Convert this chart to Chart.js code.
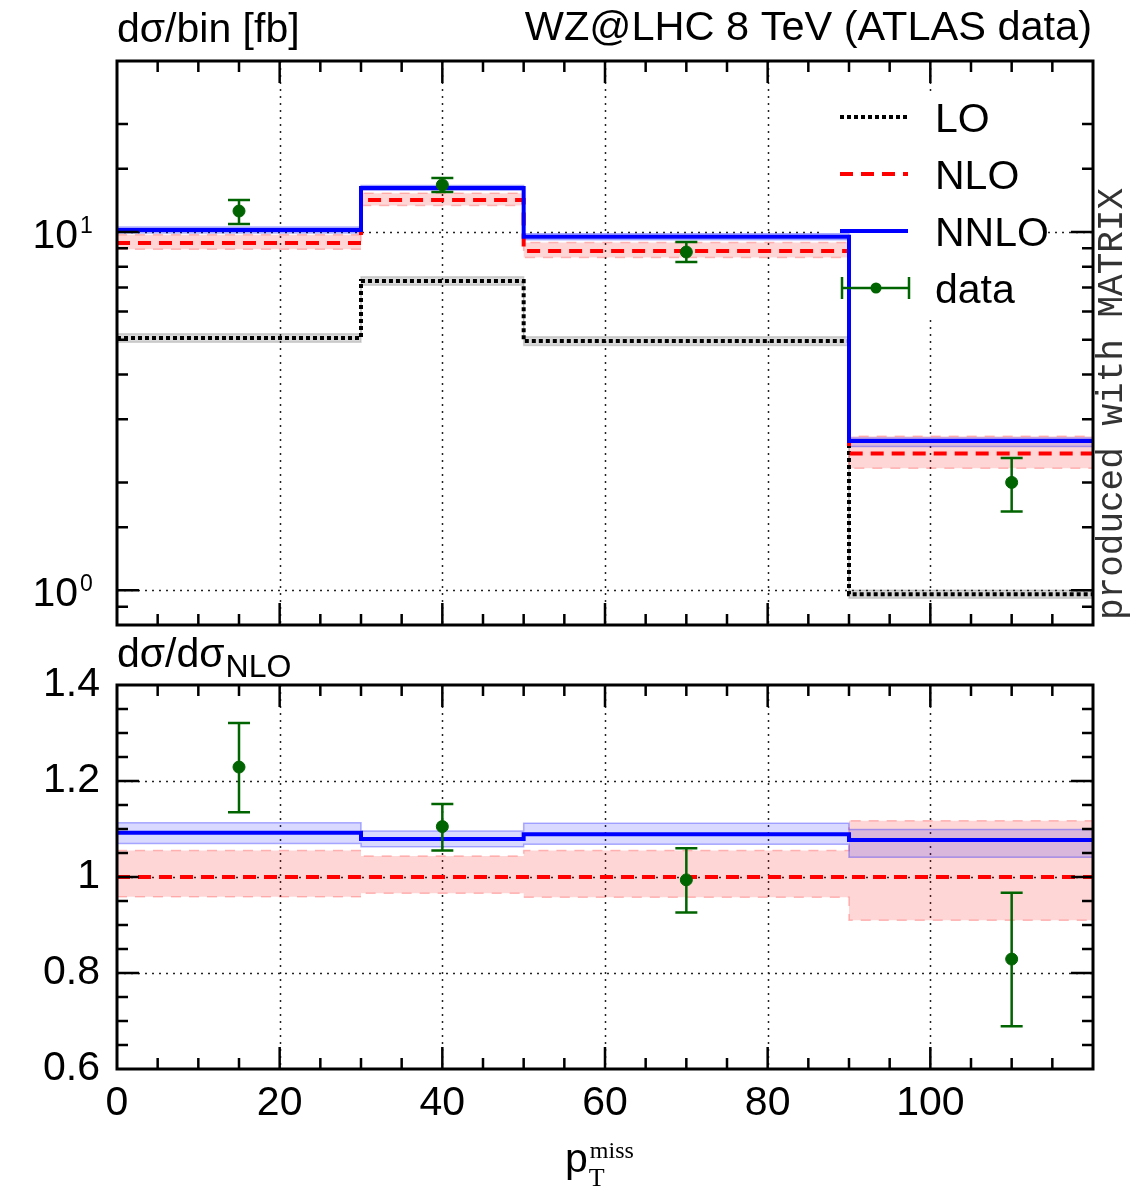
<!DOCTYPE html>
<html>
<head>
<meta charset="utf-8">
<script src="https://cdn.jsdelivr.net/npm/chart.js@4.4.0/dist/chart.umd.min.js"></script>
<style>
  body { margin: 0; background: #fff; }
  #wrap { position: relative; width: 1140px; height: 1200px; }
  canvas { position: absolute; left: 0; }
  #top { top: 0; }
  #bot { top: 630px; }
</style>
</head>
<body>
<div id="wrap">
  <canvas id="top" width="1140" height="640"></canvas>
  <canvas id="bot" width="1140" height="570"></canvas>
</div>
<script>
// bins of p_T^miss and where the data points sit
const binEdges = [0, 30, 50, 90, 120];
const dataX = [15, 40, 70, 110];

// dsigma/bin [fb]
const lo = [5.06, 7.30, 4.96, 0.975];
const loLow = [4.92, 7.10, 4.82, 0.95];
const loHigh = [5.20, 7.50, 5.10, 1.00];
const nlo = [9.32, 12.28, 8.85, 2.41];
const nloLow = [8.95, 11.86, 8.48, 2.19];
const nloHigh = [9.83, 12.82, 9.34, 2.69];
const nnlo = [10.13, 13.27, 9.69, 2.61];
const nnloLow = [9.93, 13.07, 9.51, 2.52];
const nnloHigh = [10.33, 13.48, 9.89, 2.66];
const data = [11.44, 13.53, 8.79, 2.00];
const dataLow = [10.53, 12.93, 8.25, 1.66];
const dataHigh = [12.28, 14.15, 9.38, 2.34];

// ratio to NLO
const nloRatio = [1, 1, 1, 1];
const nloRatioLow = [0.959, 0.966, 0.958, 0.910];
const nloRatioHigh = [1.055, 1.044, 1.055, 1.117];
const nnloRatio = [1.092, 1.079, 1.089, 1.077];
const nnloRatioLow = [1.070, 1.063, 1.068, 1.041];
const nnloRatioHigh = [1.113, 1.096, 1.112, 1.099];
const dataRatio = [1.229, 1.105, 0.994, 0.829];
const dataRatioLow = [1.135, 1.055, 0.926, 0.689];
const dataRatioHigh = [1.321, 1.152, 1.060, 0.967];

const xGrid = [20, 40, 60, 80, 100];
const topGrid = [1, 10];
const ratioGrid = [0.8, 1, 1.2];

const SANS = "'Liberation Sans', Arial, sans-serif";
const SERIF = "'Liberation Serif', 'Times New Roman', serif";
const MONO = "'Liberation Mono', 'Courier New', monospace";
const GREEN = '#006400';
Chart.defaults.font.family = SANS;
Chart.defaults.color = '#000';

// histogram -> step points (last value repeated at the right edge)
const step = vals => binEdges.map((x, i) => ({ x: x, y: vals[Math.min(i, vals.length - 1)] }));
const pts = vals => dataX.map((x, i) => ({ x: x, y: vals[i] }));

function stepLine(label, vals, color, width, dash, order) {
  return { label: label, data: step(vals), stepped: 'before', borderColor: color, borderWidth: width,
           borderDash: dash, pointRadius: 0, fill: false, order: order, borderCapStyle: 'butt' };
}
function band(vals, edge, dash, order, fillColor) {
  const d = stepLine('', vals, edge, 1.5, dash, order);
  if (fillColor) { d.fill = '-1'; d.backgroundColor = fillColor; }
  return d;
}
function points(vals) {
  return { label: 'data', data: pts(vals), showLine: false, pointRadius: 6, pointHoverRadius: 6,
           pointBackgroundColor: GREEN, pointBorderColor: GREEN, order: 0 };
}

// frame, inward ticks, dotted grid, error bars and extra text
function decor(opts) {
  return {
    id: 'decor',
    beforeDatasetsDraw(chart) {
      const { ctx, chartArea: a, scales: { x, y } } = chart;
      ctx.save();
      ctx.strokeStyle = '#222';
      ctx.lineWidth = 1.5;
      ctx.setLineDash([2, 5]);
      ctx.beginPath();
      xGrid.forEach(v => { const p = Math.round(x.getPixelForValue(v)) + 0.5; ctx.moveTo(p, a.top); ctx.lineTo(p, a.bottom); });
      opts.yGrid.forEach(v => { const p = Math.round(y.getPixelForValue(v)) + 0.5; ctx.moveTo(a.left, p); ctx.lineTo(a.right, p); });
      ctx.stroke();
      ctx.restore();
      if (opts.legendBox) {
        ctx.fillStyle = '#fff';
        ctx.fillRect(...opts.legendBox);
      }
    },
    beforeDatasetDraw(chart, args) {
      const ds = chart.data.datasets[args.index];
      if (ds.label !== 'data') return;
      const { ctx, scales: { x, y } } = chart;
      ctx.save();
      ctx.strokeStyle = GREEN;
      ctx.lineWidth = 2.5;
      ctx.beginPath();
      dataX.forEach((v, i) => {
        const px = x.getPixelForValue(v);
        const lo = y.getPixelForValue(opts.errLow[i]);
        const hi = y.getPixelForValue(opts.errHigh[i]);
        ctx.moveTo(px, lo); ctx.lineTo(px, hi);
        ctx.moveTo(px - 11, lo); ctx.lineTo(px + 11, lo);
        ctx.moveTo(px - 11, hi); ctx.lineTo(px + 11, hi);
      });
      ctx.stroke();
      ctx.restore();
    },
    afterDatasetsDraw(chart) {
      const { ctx, chartArea: a, scales: { x, y } } = chart;
      ctx.save();
      ctx.strokeStyle = '#000';
      ctx.lineWidth = 2.5;
      ctx.beginPath();
      x.ticks.forEach(t => {
        const p = x.getPixelForValue(t.value);
        if (p <= a.left + 1 || p >= a.right - 1) return;
        const len = t.value % 20 === 0 ? 22 : 11;
        ctx.moveTo(p, a.bottom); ctx.lineTo(p, a.bottom - len);
        ctx.moveTo(p, a.top); ctx.lineTo(p, a.top + len);
      });
      y.ticks.forEach(t => {
        const p = y.getPixelForValue(t.value);
        if (p <= a.top + 1 || p >= a.bottom - 1) return;
        const len = opts.isMajor(t.value) ? 22 : 11;
        ctx.moveTo(a.left, p); ctx.lineTo(a.left + len, p);
        ctx.moveTo(a.right, p); ctx.lineTo(a.right - len, p);
      });
      ctx.stroke();
      ctx.lineWidth = 3;
      ctx.strokeRect(a.left, a.top, a.right - a.left, a.bottom - a.top);
      ctx.restore();
      if (opts.after) opts.after(chart);
    }
  };
}

function text(ctx, s, x, y, font, align, color) {
  ctx.font = font;
  ctx.textAlign = align || 'left';
  ctx.textBaseline = 'alphabetic';
  ctx.fillStyle = color || '#000';
  ctx.fillText(s, x, y);
  return ctx.measureText(s).width;
}

// ---------- upper panel ----------
const topSets = [
  points(data),
  stepLine('NNLO', nnlo, '#0000ff', 4, [], 1),
  stepLine('NLO', nlo, '#ff0000', 4, [13, 8], 2),
  stepLine('LO', lo, '#000000', 4, [4, 3], 3),
  band(nnloLow, 'rgba(0,0,255,0.3)', [], 4),
  band(nnloHigh, 'rgba(0,0,255,0.3)', [], 4, 'rgba(0,0,255,0.15)'),
  band(nloLow, 'rgba(255,0,0,0.25)', [10, 8], 5),
  band(nloHigh, 'rgba(255,0,0,0.25)', [10, 8], 5, 'rgba(255,0,0,0.16)'),
  band(loLow, 'rgba(0,0,0,0.15)', [], 6),
  band(loHigh, 'rgba(0,0,0,0.15)', [], 6, 'rgba(0,0,0,0.15)')
];

new Chart(document.getElementById('top'), {
  type: 'line',
  data: { datasets: topSets },
  options: {
    responsive: false,
    animation: false,
    layout: { padding: { top: 61, right: 47, bottom: 15, left: 0 } },
    plugins: { legend: { display: false }, tooltip: { enabled: false } },
    scales: {
      x: { type: 'linear', min: 0, max: 120,
           ticks: { display: false, stepSize: 5, maxTicksLimit: 100, autoSkip: false },
           grid: { display: false }, border: { display: false },
           afterFit: s => { s.height = 0; } },
      y: { type: 'logarithmic', min: 0.8, max: 30,
           ticks: { display: false, autoSkip: false },
           grid: { display: false }, border: { display: false },
           afterFit: s => { s.width = 117; } }
    }
  },
  plugins: [decor({
    yGrid: topGrid,
    errLow: dataLow,
    errHigh: dataHigh,
    legendBox: [822, 92, 226, 226],
    isMajor: v => Math.abs(Math.log10(v) - Math.round(Math.log10(v))) < 1e-9,
    after(chart) {
      const { ctx, scales: { y } } = chart;
      // decade labels 10^n
      y.ticks.forEach(t => {
        const e = Math.log10(t.value);
        if (Math.abs(e - Math.round(e)) > 1e-9) return;
        const p = y.getPixelForValue(t.value);
        text(ctx, '10', 78, p + 16, '41px ' + SANS, 'right');
        text(ctx, String(Math.round(e)), 80, p + 1, '23px ' + SANS);
      });
      text(ctx, 'dσ/bin [fb]', 117, 42, '41px ' + SANS);
      text(ctx, 'WZ@LHC 8 TeV (ATLAS data)', 1092, 40, '41.5px ' + SANS, 'right');

      // legend
      const rows = ['LO', 'NLO', 'NNLO', 'data'];
      rows.forEach((name, i) => {
        const yy = 117 + i * 57;
        const ds = chart.data.datasets.find(d => d.label === name);
        ctx.save();
        if (name === 'data') {
          ctx.strokeStyle = GREEN; ctx.lineWidth = 2.5;
          ctx.beginPath();
          ctx.moveTo(842, yy); ctx.lineTo(909, yy);
          ctx.moveTo(842, yy - 11); ctx.lineTo(842, yy + 11);
          ctx.moveTo(909, yy - 11); ctx.lineTo(909, yy + 11);
          ctx.stroke();
          ctx.fillStyle = GREEN;
          ctx.beginPath(); ctx.arc(876, yy, 5.5, 0, Math.PI * 2); ctx.fill();
        } else {
          ctx.strokeStyle = ds.borderColor; ctx.lineWidth = ds.borderWidth;
          ctx.setLineDash(ds.borderDash);
          ctx.beginPath(); ctx.moveTo(840, yy); ctx.lineTo(908, yy); ctx.stroke();
        }
        ctx.restore();
        text(ctx, name, 935, yy + 15, '41px ' + SANS);
      });

      // vertical program tag
      ctx.save();
      ctx.translate(1122, 620);
      ctx.rotate(-Math.PI / 2);
      text(ctx, 'produced with MATRIX', 0, 0, '36px ' + MONO, 'left', '#333');
      ctx.restore();
    }
  })]
});

// ---------- ratio panel ----------
const botSets = [
  points(dataRatio),
  stepLine('NNLO', nnloRatio, '#0000ff', 4, [], 1),
  stepLine('NLO', nloRatio, '#ff0000', 4, [13, 8], 2),
  band(nnloRatioLow, 'rgba(0,0,255,0.3)', [], 4),
  band(nnloRatioHigh, 'rgba(0,0,255,0.3)', [], 4, 'rgba(0,0,255,0.15)'),
  band(nloRatioLow, 'rgba(255,0,0,0.25)', [10, 8], 5),
  band(nloRatioHigh, 'rgba(255,0,0,0.25)', [10, 8], 5, 'rgba(255,0,0,0.16)')
];

new Chart(document.getElementById('bot'), {
  type: 'line',
  data: { datasets: botSets },
  options: {
    responsive: false,
    animation: false,
    layout: { padding: { top: 55, right: 47, bottom: 71, left: 0 } },
    plugins: { legend: { display: false }, tooltip: { enabled: false } },
    scales: {
      x: { type: 'linear', min: 0, max: 120,
           ticks: { stepSize: 5, maxTicksLimit: 100, autoSkip: false, maxRotation: 0, padding: 10,
                    font: { size: 41 },
                    callback: v => (v % 20 === 0 && v < 120) ? String(v) : '' },
           grid: { display: false, drawTicks: false }, border: { display: false },
           afterFit: s => { s.height = 60; } },
      y: { type: 'linear', min: 0.6, max: 1.4,
           ticks: { stepSize: 0.05, maxTicksLimit: 100, autoSkip: false, padding: 17,
                    font: { size: 41 },
                    callback: v => Math.abs(v * 5 - Math.round(v * 5)) < 1e-6 ? String(+v.toFixed(2)) : '' },
           grid: { display: false, drawTicks: false }, border: { display: false },
           afterFit: s => { s.width = 117; } }
    }
  },
  plugins: [decor({
    yGrid: ratioGrid,
    errLow: dataRatioLow,
    errHigh: dataRatioHigh,
    isMajor: v => Math.abs(v * 5 - Math.round(v * 5)) < 1e-6,
    after(chart) {
      const { ctx } = chart;
      const w = text(ctx, 'dσ/dσ', 117, 37, '41px ' + SANS);
      text(ctx, 'NLO', 117 + w + 1, 47, '32px ' + SANS);
      // x axis title p_T^miss
      const pw = text(ctx, 'p', 565, 542, '41px ' + SANS);
      text(ctx, 'T', 565 + pw + 1, 556, '26px ' + SERIF);
      text(ctx, 'miss', 565 + pw + 2, 528, '24px ' + SERIF);
    }
  })]
});
</script>
</body>
</html>
